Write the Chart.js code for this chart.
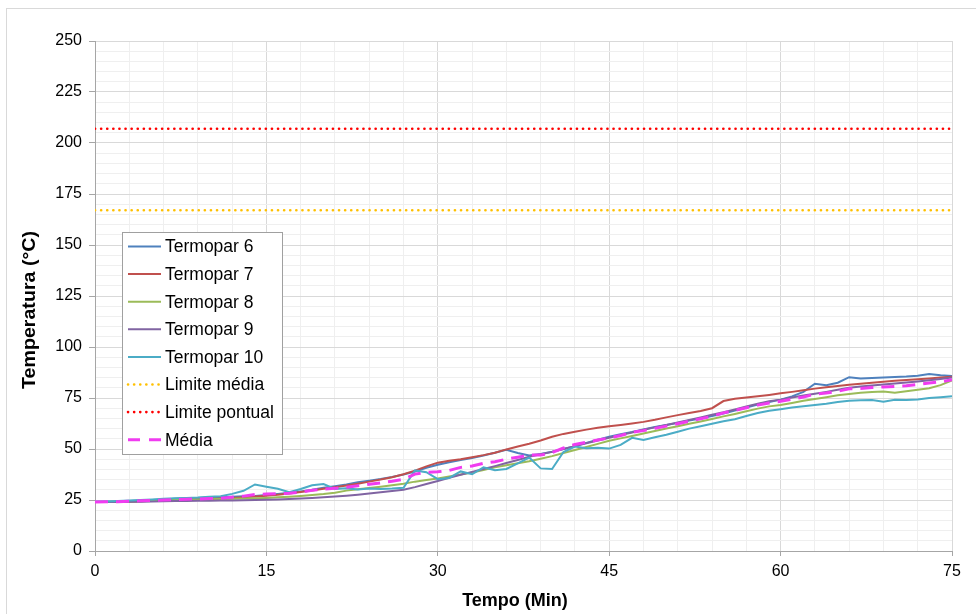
<!DOCTYPE html>
<html>
<head>
<meta charset="utf-8">
<script src="https://cdn.jsdelivr.net/npm/chart.js@4.4.1/dist/chart.umd.min.js"></script>
<style>
  html, body { margin: 0; padding: 0; background: #fff; overflow: hidden; }
  #frame { position: absolute; left: 6px; top: 8px; width: 1000px; height: 700px; border: 1px solid #d9d9d9; }
  #wrap { position: absolute; left: 0; top: 0; width: 976px; height: 614px; }
</style>
</head>
<body>
<div id="frame"></div>
<div id="wrap"><canvas id="c" width="976" height="614"></canvas></div>
<script>
// Time (minutes)
const tempo = [];
for (let i = 0; i <= 75; i++) tempo.push(i);

const termopar6 = [24.2,24.2,24.3,24.5,24.8,25.0,25.3,25.6,25.8,26.0,26.2,26.4,26.6,26.8,27.0,27.4,27.9,28.5,29.2,30.0,31.0,31.8,32.6,33.7,34.5,35.3,36.3,37.5,39.0,40.8,42.3,43.5,44.6,45.6,46.8,48.2,49.6,48.0,46.8,47.6,48.7,50.0,51.4,53.0,54.5,56.0,57.2,58.3,59.6,60.8,61.8,62.8,64.0,65.0,66.2,67.4,68.8,70.3,71.8,73.0,74.2,75.8,78.0,82.0,81.3,82.5,85.2,84.6,84.8,85.0,85.3,85.5,85.9,86.8,86.2,85.8];
const termopar7 = [24.0,24.0,24.1,24.2,24.4,24.6,24.8,25.0,25.2,25.4,25.6,25.8,26.0,26.3,26.7,27.1,27.6,28.2,28.9,29.7,30.5,31.3,32.1,33.0,34.0,35.0,36.2,37.6,39.4,41.5,43.3,44.2,45.0,46.0,47.0,48.2,49.8,51.2,52.6,54.2,56.0,57.4,58.5,59.5,60.4,61.2,61.8,62.5,63.3,64.3,65.5,66.6,67.6,68.6,70.0,73.5,74.6,75.2,75.8,76.5,77.3,78.0,78.8,79.6,80.3,80.9,81.5,82.0,82.5,83.0,83.4,83.8,84.2,84.6,85.0,85.4];
const termopar8 = [24.0,24.0,24.1,24.2,24.4,24.6,24.8,25.0,25.2,25.3,25.4,25.5,25.6,25.7,25.8,26.0,26.3,26.6,27.0,27.4,27.9,28.6,29.6,30.3,30.9,31.5,32.2,33.0,34.0,34.8,35.5,36.5,37.5,38.5,39.7,41.0,42.0,43.0,44.0,45.2,46.5,48.0,49.5,51.0,52.5,54.0,55.2,56.4,57.6,58.8,60.0,61.2,62.4,63.5,64.7,66.0,67.2,68.5,69.8,70.9,71.6,72.6,73.6,74.5,75.4,76.3,77.0,77.6,78.0,78.2,77.6,78.3,79.0,79.8,81.3,83.6];
const termopar9 = [24.0,24.0,24.0,24.1,24.2,24.3,24.4,24.5,24.5,24.6,24.6,24.7,24.8,24.9,25.0,25.1,25.3,25.5,25.7,26.0,26.3,26.7,27.1,27.6,28.2,28.8,29.4,30.0,31.3,32.8,34.3,35.9,37.4,38.8,40.2,41.6,43.1,44.6,46.2,47.4,48.6,50.0,51.4,52.8,54.2,55.5,56.8,58.1,59.4,60.6,61.8,63.0,64.2,65.5,66.8,68.0,69.4,70.8,72.2,73.4,74.2,75.2,76.2,77.1,78.0,79.0,80.0,80.6,81.1,81.6,82.1,82.6,83.1,83.7,84.3,85.0];
const termopar10 = [24.2,24.3,24.5,24.7,25.0,25.3,25.6,25.9,26.0,26.2,26.6,26.8,28.0,29.5,32.6,31.5,30.5,28.8,30.4,32.2,32.8,30.4,30.8,30.2,30.6,30.4,30.6,31.0,39.5,38.6,35.2,35.8,39.0,37.6,41.0,39.6,40.2,43.0,45.8,40.5,40.2,48.5,51.2,50.4,50.6,50.2,52.0,55.5,54.4,55.8,57.0,58.5,60.0,61.2,62.4,63.6,64.6,66.2,67.6,68.8,69.5,70.3,71.0,71.6,72.2,73.0,73.6,73.9,74.0,73.2,74.1,74.0,74.3,75.0,75.4,75.8];
const media = [24.0,24.1,24.2,24.4,24.6,24.8,25.0,25.2,25.4,25.5,25.7,25.9,26.4,26.9,27.7,27.9,28.1,28.3,28.9,29.8,30.4,30.7,31.2,32.0,32.7,33.4,34.2,35.2,37.7,38.6,38.8,39.5,41.0,41.7,43.0,43.8,45.0,46.0,47.0,47.0,48.2,50.5,52.2,53.3,54.4,55.4,56.6,58.2,59.0,60.1,61.2,62.4,63.6,64.8,66.0,67.7,68.9,70.2,71.5,72.5,73.4,74.4,75.5,76.9,77.4,78.3,79.5,79.7,80.1,80.4,80.7,81.0,81.7,82.4,82.9,83.9];
const limiteMedia = 167;
const limitePontual = 207;

const xTicksMajor = [0, 15, 30, 45, 60, 75];
const yTicksMajor = [0, 25, 50, 75, 100, 125, 150, 175, 200, 225, 250];
const xTitle = 'Tempo (Min)';
const yTitle = 'Temperatura (°C)';

const pts = arr => arr.map((v, i) => ({ x: tempo[i], y: v }));
const flat = v => [{ x: tempo[0], y: v }, { x: tempo[tempo.length - 1], y: v }];

const FONT = "'Liberation Sans', Arial, sans-serif";

const legendPlugin = {
  id: 'boxLegend',
  afterDraw(chart) {
    const ctx = chart.ctx;
    const x0 = 122.5, y0 = 232.5, w = 160, h = 222;
    ctx.save();
    ctx.fillStyle = '#ffffff';
    ctx.fillRect(x0, y0, w, h);
    ctx.strokeStyle = '#a0a0a0';
    ctx.lineWidth = 1;
    ctx.strokeRect(x0, y0, w, h);
    ctx.font = '17.5px ' + FONT;
    ctx.textBaseline = 'middle';
    ctx.textAlign = 'left';
    chart.data.datasets.forEach((ds, i) => {
      const cy = 246.5 + i * 27.6;
      ctx.save();
      ctx.strokeStyle = ds.borderColor;
      ctx.lineWidth = ds.borderWidth;
      ctx.lineCap = ds.borderCapStyle || 'butt';
      ctx.setLineDash(ds.legendDash || ds.borderDash || []);
      ctx.beginPath();
      ctx.moveTo(128, cy);
      ctx.lineTo(161, cy);
      ctx.stroke();
      ctx.restore();
      ctx.fillStyle = '#000000';
      ctx.fillText(ds.label, 165, cy + 1);
    });
    ctx.restore();
  }
};

const titlePlugin = {
  id: 'axisTitles',
  afterDraw(chart) {
    const ctx = chart.ctx;
    ctx.save();
    ctx.fillStyle = '#000';
    ctx.font = 'bold 18px ' + FONT;
    ctx.textAlign = 'center';
    ctx.textBaseline = 'middle';
    ctx.fillText(xTitle, 515, 601);
    ctx.translate(30, 310);
    ctx.rotate(-Math.PI / 2);
    ctx.scale(1.09, 1);
    ctx.fillText(yTitle, 0, 0);
    ctx.restore();
  }
};

const base = { pointRadius: 0, pointHoverRadius: 0, borderWidth: 2, tension: 0, fill: false };

new Chart(document.getElementById('c'), {
  type: 'line',
  data: {
    datasets: [
      { ...base, label: 'Termopar 6', data: pts(termopar6), borderColor: '#4f81bd', order: 7 },
      { ...base, label: 'Termopar 7', data: pts(termopar7), borderColor: '#c0504d', order: 6 },
      { ...base, label: 'Termopar 8', data: pts(termopar8), borderColor: '#9bbb59', order: 5 },
      { ...base, label: 'Termopar 9', data: pts(termopar9), borderColor: '#8064a2', order: 4 },
      { ...base, label: 'Termopar 10', data: pts(termopar10), borderColor: '#4bacc6', order: 3 },
      { ...base, label: 'Limite média', data: flat(limiteMedia), borderColor: '#ffc000', borderWidth: 2.6, borderDash: [0.1, 6], borderCapStyle: 'round', order: 2 },
      { ...base, label: 'Limite pontual', data: flat(limitePontual), borderColor: '#ff0000', borderWidth: 2.6, borderDash: [0.1, 6], borderCapStyle: 'round', order: 1 },
      { ...base, label: 'Média', data: pts(media), borderColor: '#f03cf0', borderWidth: 3, borderDash: [13, 8], legendDash: [12, 9], order: 0 }
    ]
  },
  options: {
    responsive: false,
    animation: false,
    events: [],
    layout: { padding: { top: 41, right: 24, left: 0, bottom: 0 } },
    plugins: { legend: { display: false }, tooltip: { enabled: false } },
    scales: {
      x: {
        type: 'linear', min: 0, max: 75,
        afterFit: s => { s.height = 63; },
        afterBuildTicks: s => { s.ticks = tempo.filter(t => t % 3 === 0).map(v => ({ value: v })); },
        ticks: {
          autoSkip: false, maxRotation: 0, padding: 6,
          color: '#000', font: { family: FONT, size: 16 },
          callback: v => xTicksMajor.includes(v) ? String(v) : ''
        },
        grid: {
          tickLength: 5,
          color: c => (c.tick && xTicksMajor.includes(c.tick.value)) ? '#d9d9d9' : '#efefef',
          tickColor: c => (c.tick && xTicksMajor.includes(c.tick.value)) ? '#a6a6a6' : 'rgba(0,0,0,0)'
        },
        border: { color: '#a6a6a6', width: 1 },
        title: { display: false }
      },
      y: {
        type: 'linear', min: 0, max: 250,
        afterFit: s => { s.width = 95; },
        afterBuildTicks: s => { const t = []; for (let v = 0; v <= 250; v += 5) t.push({ value: v }); s.ticks = t; },
        ticks: {
          autoSkip: false, padding: 7,
          color: '#000', font: { family: FONT, size: 16 },
          callback: v => yTicksMajor.includes(v) ? String(v) : ''
        },
        grid: {
          tickLength: 6,
          color: c => (c.tick && yTicksMajor.includes(c.tick.value)) ? '#d9d9d9' : '#efefef',
          tickColor: c => (c.tick && yTicksMajor.includes(c.tick.value)) ? '#a6a6a6' : 'rgba(0,0,0,0)'
        },
        border: { color: '#a6a6a6', width: 1 },
        title: { display: false }
      }
    }
  },
  plugins: [legendPlugin, titlePlugin]
});
</script>
</body>
</html>
